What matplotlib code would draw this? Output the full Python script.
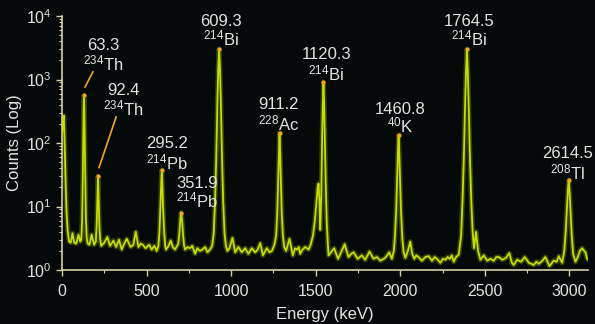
import matplotlib
matplotlib.use("Agg")
import matplotlib.pyplot as plt
from matplotlib.ticker import LogLocator, MultipleLocator, NullFormatter

# ---------------- data ----------------
spec_energy = [
    0, 6, 11, 16, 21, 27, 34, 42, 52, 62, 72, 84, 98, 108,
    114, 119, 123, 126, 128, 130, 132, 134, 137, 141, 146, 152, 162, 175, 190,
    200, 205, 209, 213, 217, 221, 226, 232, 250, 268, 284, 304, 320, 337, 353,
    368, 383, 406, 422, 436, 452, 465, 477, 495, 515, 530, 546, 560, 570,
    576, 582, 587, 590, 593, 598, 604, 610, 615, 630, 643, 655, 668,
    688, 695, 700, 705, 710, 716, 722, 728, 742, 757, 770, 787, 800, 816, 830,
    846, 860, 875, 888,
    897, 905, 912, 919, 924, 929, 934, 939, 946, 953, 961, 969, 978, 990,
    1008, 1024, 1043, 1063, 1083, 1102, 1122, 1142, 1157, 1172, 1188, 1211,
    1227, 1241, 1256,
    1266, 1273, 1278, 1282, 1286, 1290, 1294, 1299, 1306, 1314, 1325, 1345,
    1365, 1378, 1389, 1400, 1408, 1422, 1438, 1458, 1470, 1484,
    1495, 1505, 1512, 1517, 1522, 1527, 1533, 1538, 1542, 1546, 1550, 1554,
    1559, 1565, 1572, 1576, 1590, 1609, 1632, 1650, 1671, 1694, 1710, 1724,
    1748, 1773, 1793, 1818, 1842, 1862, 1882, 1911, 1935, 1950, 1962,
    1969, 1976, 1981, 1986, 1990, 1994, 1999, 2004, 2012, 2020, 2030, 2045,
    2059, 2071, 2083, 2095, 2108, 2128, 2148, 2168, 2188, 2203, 2217, 2237,
    2252, 2267, 2280, 2293, 2305, 2316, 2330, 2346,
    2360, 2368, 2376, 2384, 2389, 2394, 2399, 2404, 2412, 2420, 2428, 2436,
    2448, 2460, 2474, 2494, 2514, 2533, 2553, 2568, 2583, 2603, 2625, 2645,
    2660, 2671, 2691, 2715, 2736, 2760, 2789, 2805, 2819, 2840, 2858, 2882,
    2907, 2925, 2937, 2957,
    2970, 2978, 2985, 2991, 2996, 3001, 3007, 3014, 3022, 3036, 3050, 3062,
    3075, 3087, 3095, 3105, 3118,
]
spec_counts = [
    140, 230, 270, 90, 25, 8, 4, 2.8, 2.7, 3.8, 2.7, 2.6, 3.6, 2.8,
    3.0, 6, 30, 150, 330, 560, 320, 130, 30, 7, 3.2, 2.6, 2.5, 3.6, 2.5,
    2.8, 5, 13, 30, 12, 5, 3, 2.4, 2.7, 3.3, 2.4, 2.9, 2.3, 3.0, 2.1,
    2.6, 3.1, 2.3, 2.5, 4.0, 2.3, 2.6, 2.5, 2.2, 2.5, 2.1, 2.4, 2.0, 2.4,
    4, 10, 25, 37, 24, 9, 4, 2.4, 2.1, 2.4, 2.9, 2.3, 2.1,
    2.6, 4, 6.5, 8, 6, 3.5, 2.4, 2.1, 2.3, 2.2, 2.4, 1.8, 2.2, 2.0, 2.1,
    2.3, 1.9, 2.1, 2.4,
    3.8, 12, 60, 470, 1500, 3000, 1500, 470, 60, 12, 3.8, 2.4, 2.0, 2.2,
    3.2, 1.9, 2.3, 1.9, 2.2, 1.8, 2.2, 1.9, 2.1, 2.65, 1.7, 2.2,
    1.9, 2.0, 2.5,
    3.5, 8, 25, 70, 145, 70, 25, 8, 3.5, 2.3, 2.0, 3.1,
    1.7, 2.2, 2.1, 2.3, 1.8, 2.1, 2.3, 2.1, 2.5, 3.5,
    6, 12, 20, 23, 12, 4.3, 15, 120, 400, 910, 400, 120,
    25, 6, 2.5, 1.7, 1.9, 2.2, 1.5, 1.9, 2.55, 1.6, 1.8, 1.9,
    1.5, 1.7, 1.45, 1.95, 1.5, 1.6, 1.4, 1.55, 1.9, 1.5, 2.0,
    3.5, 9, 25, 70, 134, 70, 25, 9, 3.2, 1.9, 1.55, 2.0,
    2.8, 1.8, 1.5, 1.7, 1.6, 1.4, 1.6, 1.65, 1.4, 1.6, 1.5, 1.3,
    1.5, 1.45, 1.6, 1.5, 1.7, 1.35, 1.6, 1.75,
    3.5, 12, 60, 470, 1400, 3000, 1400, 470, 60, 12, 4, 2.2,
    4.0, 2.0, 1.45, 1.7, 1.4, 1.5, 1.4, 1.6, 1.6, 1.45, 1.55, 1.85,
    1.3, 1.2, 1.45, 1.35, 1.6, 1.3, 1.2, 1.35, 1.25, 1.4, 1.6, 1.15,
    1.4, 1.35, 1.65, 1.3,
    2.0, 4, 9, 18, 26, 17, 8, 3.5, 1.8, 1.35, 1.6, 2.0,
    2.2, 2.0, 1.9, 1.5, 1.4,
]

# annotated peaks (position on axis, peak counts, labels)
peak_energy = [130, 213, 590, 705, 929, 1286, 1546, 1990, 2394, 2996]
peak_counts = [560, 30, 37, 8, 3000, 145, 910, 134, 3000, 26]
peak_values = ["63.3", "92.4", "295.2", "351.9", "609.3", "911.2",
               "1120.3", "1460.8", "1764.5", "2614.5"]
peak_mass = ["234", "234", "214", "214", "214", "228", "214", "40", "214", "208"]
peak_element = ["Th", "Th", "Pb", "Pb", "Bi", "Ac", "Bi", "K", "Bi", "Tl"]
# label anchor positions (x in energy units, y in counts) for value / isotope lines
label_x = [246, 361, 621, 798, 941, 1278, 1562, 2000, 2408, 2988]
value_y = [3390, 676, 100, 23.4, 8130, 407, 2510, 331, 8130, 67.6]
iso_y = [1820, 355, 50, 12.6, 4470, 204, 1260, 186, 4370, 34.7]
# leader lines for the two Th labels: (x0, y0, x1, y1)
leader_x0 = [183, 320]
leader_y0 = [1320, 257]
leader_x1 = [136, 219]
leader_y1 = [760, 41]

x_ticks = [0, 500, 1000, 1500, 2000, 2500, 3000]

# ---------------- style ----------------
BG = "#06090a"
LINE = "#c6dc0a"
GLOW = "#8fae00"
AXIS = "#d8cfa6"
TEXT = "#e2e2e2"
ORANGE = "#f2a623"

plt.rcParams["font.family"] = ["Liberation Sans", "DejaVu Sans"]
plt.rcParams["mathtext.fontset"] = "custom"
plt.rcParams["mathtext.rm"] = "Liberation Sans"
plt.rcParams["mathtext.it"] = "Liberation Sans:italic"
plt.rcParams["mathtext.bf"] = "Liberation Sans:bold"

fig = plt.figure(figsize=(5.95, 3.24), dpi=100, facecolor=BG)
ax = fig.add_axes([62 / 595, 54 / 324, (588 - 62) / 595, (270 - 16) / 324])
ax.set_facecolor(BG)

# glow + line
ax.plot(spec_energy, spec_counts, color=GLOW, lw=3.6, alpha=0.35,
        solid_joinstyle="round", zorder=2)
ax.plot(spec_energy, spec_counts, color=LINE, lw=1.3,
        solid_joinstyle="round", zorder=3)
ax.scatter(peak_energy, peak_counts, s=9, color=ORANGE, zorder=4, lw=0)

for x0, y0, x1, y1 in zip(leader_x0, leader_y0, leader_x1, leader_y1):
    ax.plot([x0, x1], [y0, y1], color=ORANGE, lw=1.2, zorder=4)

for lx, vy, iy, v, m, el in zip(label_x, value_y, iso_y, peak_values,
                                peak_mass, peak_element):
    ax.text(lx, vy, v, color=TEXT, fontsize=12, ha="center", va="center")
    ax.text(lx, iy, r"$\mathregular{^{%s}}$%s" % (m, el), color=TEXT,
            fontsize=12, ha="center", va="center")

ax.set_yscale("log")
ax.set_ylim(1, 1e4)
ax.set_xlim(0, 3110)
ax.set_xticks(x_ticks)
ax.xaxis.set_minor_locator(MultipleLocator(250))
ax.yaxis.set_major_locator(LogLocator(base=10, numticks=10))
ax.yaxis.set_minor_locator(LogLocator(base=10, subs=(2, 3, 4, 5, 6, 7, 8, 9), numticks=10))
ax.yaxis.set_minor_formatter(NullFormatter())

for side in ("top", "right"):
    ax.spines[side].set_visible(False)
for side in ("left", "bottom"):
    ax.spines[side].set_color(AXIS)
    ax.spines[side].set_linewidth(1.2)

ax.tick_params(axis="both", which="major", colors=AXIS, labelcolor=TEXT,
               labelsize=11.5, length=4, width=1)
ax.tick_params(axis="both", which="minor", colors=AXIS, length=2.5, width=0.8)
ax.tick_params(axis="x", pad=6)

ax.set_xlabel("Energy (keV)", color=TEXT, fontsize=12, labelpad=6)
ax.set_ylabel("Counts (Log)", color=TEXT, fontsize=12, labelpad=3)

fig.savefig("out.png", dpi=100, facecolor=BG)
